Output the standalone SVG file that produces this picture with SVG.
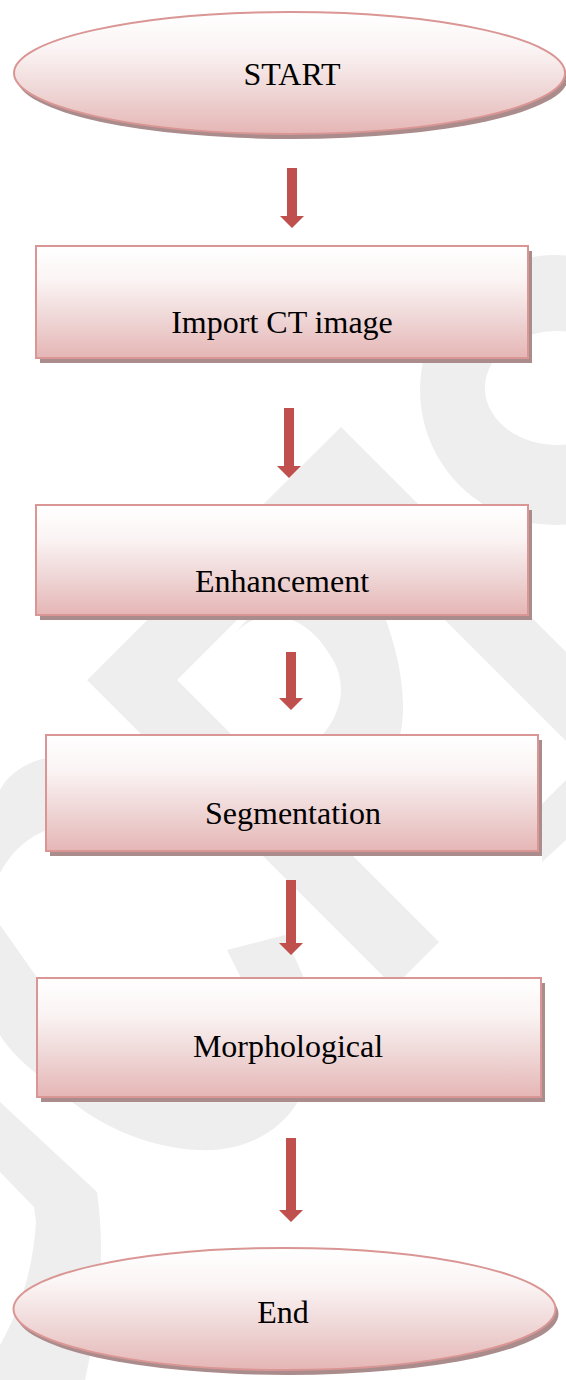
<svg xmlns="http://www.w3.org/2000/svg" width="566" height="1380" viewBox="0 0 566 1380">
<style>
.wm{fill:#eeeeee;stroke:none}
.shadow{fill:#ab8c8d}
.box{fill:url(#g);stroke:#d99694;stroke-width:2}
.lbl{font-family:"Liberation Serif","Times New Roman",serif;font-size:32px;fill:#000;text-anchor:middle}
.arr{fill:#c0504d}
</style>
<defs>
<linearGradient id="g" x1="0" y1="0" x2="0" y2="1">
<stop offset="0" stop-color="#ffffff"/>
<stop offset="0.3" stop-color="#fbf4f4"/>
<stop offset="0.65" stop-color="#efd6d6"/>
<stop offset="1" stop-color="#e5b6b5"/>
</linearGradient>
</defs>
<rect width="566" height="1380" fill="#ffffff"/>
<g id="watermark">
<path class="wm" fill-rule="evenodd" d="M555,255 A135,135 0 1 0 555.1,255 Z M557,331 A72,57 0 1 1 556.9,331 Z"/>
<polygon class="wm" points="341,427 87,680 394,987 439,942 177,680 341,516 566,741 566,652"/>
<path class="wm" d="M235,633 L260,605 L380,605 C397,645 410,700 399,740 L318,740 C345,712 347,680 330,655 C315,630 295,616 271,616 C255,617 244,624 235,633 Z"/>
<path class="wm" d="M120,756 L47,758 C25,762 8,775 0,790 L0,873 C12,850 30,836 47,830 L120,830 Z"/>
<path class="wm" d="M285,935 L303,976 C306,1020 306,1060 300,1098 C280,1135 240,1152 199,1150 C150,1148 105,1128 72,1102 C45,1080 15,1060 0,1035 L0,925 L36,976 C60,1040 120,1085 190,1088 C245,1085 255,1030 240,976 L227,950 Z"/>
<path class="wm" d="M0,1102 L97,1192 C104,1240 103,1300 85,1380 L0,1380 L0,1345 C20,1310 33,1270 36,1222 L34,1207 L0,1172 Z"/>
<polygon class="wm" points="566,780 566,840 542,862 542,804"/>
</g>
<g id="connectors">
<polygon class="arr" points="287,168 297,168 297,216 304,216 292,228 280,216 287,216"/>
<polygon class="arr" points="284,408 294,408 294,466 301,466 289,478 277,466 284,466"/>
<polygon class="arr" points="286,652 296,652 296,698 303,698 291,710 279,698 286,698"/>
<polygon class="arr" points="286,880 296,880 296,943 303,943 291,955 279,943 286,943"/>
<polygon class="arr" points="286,1138 296,1138 296,1210 303,1210 291,1222 279,1210 286,1210"/>
</g>
<g id="start">
<ellipse class="shadow" cx="292.5" cy="78" rx="275.5" ry="61"/>
<ellipse class="box" cx="289.5" cy="73" rx="275.5" ry="61"/>
<text class="lbl" x="292" y="85">START</text>
</g>
<g id="import">
<rect class="shadow" x="40" y="251" width="492" height="112"/>
<rect class="box" x="36" y="246" width="492" height="112"/>
<text class="lbl" x="282" y="333">Import CT image</text>
</g>
<g id="enhancement">
<rect class="shadow" x="40" y="510" width="492" height="110"/>
<rect class="box" x="36" y="505" width="492" height="110"/>
<text class="lbl" x="282" y="592">Enhancement</text>
</g>
<g id="segmentation">
<rect class="shadow" x="50" y="740" width="492" height="116"/>
<rect class="box" x="46" y="735" width="492" height="116"/>
<text class="lbl" x="293" y="824">Segmentation</text>
</g>
<g id="morphological">
<rect class="shadow" x="41" y="983" width="504" height="119"/>
<rect class="box" x="37" y="978" width="504" height="119"/>
<text class="lbl" x="288" y="1057">Morphological</text>
</g>
<g id="end">
<ellipse class="shadow" cx="287.5" cy="1314" rx="271" ry="61"/>
<ellipse class="box" cx="284.5" cy="1309" rx="271" ry="61"/>
<text class="lbl" x="283" y="1323">End</text>
</g>
</svg>
